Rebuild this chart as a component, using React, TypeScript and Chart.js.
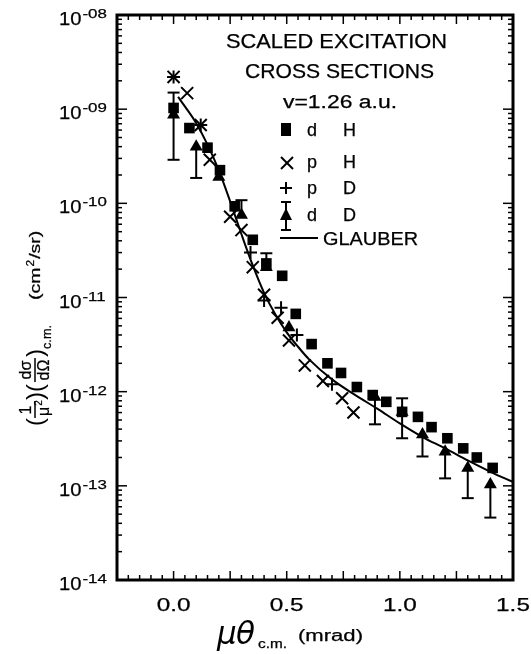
import React, { useEffect, useRef } from 'react';
import { Chart, registerables } from 'chart.js';

Chart.register(...registerables);

// ---------- data ----------
const xTickValues = [0, 0.5, 1.0, 1.5];
const xTickLabels = ['0.0', '0.5', '1.0', '1.5'];
const yTickExponents = [-14, -13, -12, -11, -10, -9, -8];
const yTickLabels = ['-14', '-13', '-12', '-11', '-10', '-09', '-08'];

// d H (filled squares)
const dH_x = [0.0, 0.07, 0.15, 0.205, 0.27, 0.35, 0.41, 0.48, 0.54, 0.61, 0.68, 0.74, 0.81, 0.88, 0.94, 1.01, 1.08, 1.14, 1.21, 1.28, 1.34, 1.41];
const dH_y = [1.03e-9, 6.3e-10, 3.9e-10, 2.25e-10, 9.3e-11, 4.1e-11, 2.3e-11, 1.7e-11, 6.7e-12, 3.2e-12, 2.0e-12, 1.58e-12, 1.12e-12, 9.2e-13, 7.8e-13, 6.1e-13, 5.4e-13, 4.2e-13, 3.2e-13, 2.5e-13, 2.0e-13, 1.55e-13];

// p H (x marks)
const pH_x = [0.0, 0.06, 0.12, 0.16, 0.25, 0.30, 0.35, 0.40, 0.46, 0.51, 0.58, 0.66, 0.745, 0.795];
const pH_y = [2.2e-9, 1.48e-9, 6.8e-10, 2.9e-10, 7.2e-11, 5.2e-11, 2.1e-11, 1.07e-11, 6.1e-12, 3.5e-12, 1.9e-12, 1.3e-12, 8.5e-13, 6.0e-13];

// p D (plus marks)
const pD_x = [0.0, 0.12, 0.34, 0.40, 0.475, 0.545, 0.70];
const pD_y = [2.2e-9, 6.8e-10, 3.0e-11, 9.3e-12, 7.8e-12, 4.0e-12, 1.2e-12];

// d D (filled triangles with error bars)
const dD_x = [0.0, 0.10, 0.20, 0.30, 0.41, 0.51, 0.89, 1.01, 1.10, 1.20, 1.30, 1.40];
const dD_y = [8.7e-10, 4.0e-10, 1.9e-10, 7.5e-11, 2.1e-11, 4.8e-12, 8.8e-13, 6.1e-13, 3.5e-13, 2.3e-13, 1.55e-13, 1.03e-13];
const dD_low = [2.9e-10, 1.86e-10, 1.9e-10, 7.5e-11, 2.1e-11, 4.8e-12, 4.5e-13, 3.2e-13, 2.05e-13, 1.2e-13, 7.4e-14, 4.6e-14];
const dD_high = [1.5e-9, 4.0e-10, 1.9e-10, 1.08e-10, 2.95e-11, 4.8e-12, 8.8e-13, 8.5e-13, 3.5e-13, 2.3e-13, 1.55e-13, 1.03e-13];

// Glauber calculation (solid line)
const gl_x = [0.02, 0.05, 0.1, 0.15, 0.2, 0.25, 0.3, 0.35, 0.4, 0.45, 0.5, 0.55, 0.6, 0.7, 0.8, 0.9, 1.0, 1.1, 1.2, 1.3, 1.4, 1.5];
const gl_y = [1.35e-9, 1.07e-9, 7.1e-10, 4.2e-10, 2.24e-10, 1.05e-10, 4.7e-11, 2.19e-11, 1.12e-11, 6.6e-12, 4.27e-12, 3.0e-12, 2.19e-12, 1.35e-12, 9.3e-13, 6.6e-13, 4.6e-13, 3.3e-13, 2.5e-13, 1.86e-13, 1.41e-13, 1.1e-13];

const legendTitle = ['SCALED EXCITATION', 'CROSS SECTIONS', 'v=1.26 a.u.'];
const legendRows = [['d', 'H'], ['p', 'H'], ['p', 'D'], ['d', 'D']];
const legendLine = 'GLAUBER';

// ---------- helpers ----------
const FONT = '"Liberation Sans", Arial, Helvetica, sans-serif';
const pts = (xs: number[], ys: number[]) => xs.map((x, i) => ({ x, y: ys[i] }));

type TxtOpts = { align?: 'left' | 'center' | 'right'; width?: number; sx?: number; italic?: boolean; stroke?: number; family?: string };
function txt(ctx: CanvasRenderingContext2D, s: string, x: number, y: number, size: number, o: TxtOpts = {}) {
  const align = o.align || 'left';
  ctx.save();
  ctx.font = `${o.italic ? 'italic ' : ''}${size}px ${o.family || FONT}`;
  const w = ctx.measureText(s).width;
  const sx = o.width ? o.width / w : o.sx || 1;
  const tw = w * sx;
  const x0 = align === 'left' ? x : align === 'center' ? x - tw / 2 : x - tw;
  ctx.translate(x0, y);
  ctx.scale(sx, 1);
  ctx.fillStyle = '#000';
  ctx.textAlign = 'left';
  ctx.textBaseline = 'alphabetic';
  ctx.fillText(s, 0, 0);
  const st = o.stroke === undefined ? 0.25 : o.stroke;
  if (st) {
    ctx.strokeStyle = '#000';
    ctx.lineWidth = st;
    ctx.strokeText(s, 0, 0);
  }
  ctx.restore();
  return tw;
}
function line(ctx: CanvasRenderingContext2D, x1: number, y1: number, x2: number, y2: number, lw = 2) {
  ctx.beginPath();
  ctx.lineWidth = lw;
  ctx.moveTo(x1, y1);
  ctx.lineTo(x2, y2);
  ctx.stroke();
}

const framePlugin = {
  id: 'frame',
  beforeDraw(chart: any) {
    const { ctx, width, height } = chart;
    ctx.save();
    ctx.fillStyle = '#fff';
    ctx.fillRect(0, 0, width, height);
    ctx.restore();
  },
  afterDatasetsDraw(chart: any) {
    // error bars for d D
    const { ctx, scales } = chart;
    const xs = scales.x, ys = scales.y;
    ctx.save();
    ctx.strokeStyle = '#000';
    dD_x.forEach((xv, i) => {
      const px = xs.getPixelForValue(xv);
      const pc = ys.getPixelForValue(dD_y[i]);
      const pl = ys.getPixelForValue(dD_low[i]);
      const ph = ys.getPixelForValue(dD_high[i]);
      if (pl - pc > 1) {
        line(ctx, px, pc, px, pl, 2);
        line(ctx, px - 6, pl, px + 6, pl, 2);
      }
      if (pc - ph > 1) {
        line(ctx, px, pc, px, ph, 2);
        line(ctx, px - 6, ph, px + 6, ph, 2);
      }
    });
    ctx.restore();
  },
  afterDraw(chart: any) {
    const { ctx, chartArea: a, scales } = chart;
    const xs = scales.x, ys = scales.y;
    ctx.save();
    ctx.strokeStyle = '#000';
    ctx.fillStyle = '#000';
    // frame
    ctx.lineWidth = 3;
    ctx.strokeRect(a.left, a.top, a.right - a.left, a.bottom - a.top);
    // x ticks (inward, top & bottom)
    for (let i = -4; i < 30; i++) {
      const v = i * 0.05;
      const px = xs.getPixelForValue(v);
      const len = i % 5 === 0 ? 9 : 5;
      line(ctx, px, a.bottom, px, a.bottom - len, 1.5);
      line(ctx, px, a.top, px, a.top + len, 1.5);
    }
    // y ticks (log, inward, left & right)
    for (let e = -14; e <= -9; e++) {
      for (let k = 1; k <= 9; k++) {
        if (e === -14 && k === 1) continue;
        const py = ys.getPixelForValue(k * Math.pow(10, e));
        const len = k === 1 ? 10 : 5;
        line(ctx, a.left, py, a.left + len, py, 1.5);
        line(ctx, a.right, py, a.right - len, py, 1.5);
      }
    }
    // x tick labels
    xTickValues.forEach((v, i) => {
      const px = xs.getPixelForValue(v);
      txt(ctx, xTickLabels[i], px, a.bottom + 31, 18, { align: 'center', sx: 1.35 });
    });
    // y tick labels
    yTickExponents.forEach((e, i) => {
      const py = ys.getPixelForValue(Math.pow(10, e));
      const w = txt(ctx, '10', 59, py + 10, 18, { sx: 1.12 });
      txt(ctx, yTickLabels[i], 59 + w + 1, py + 3, 13, { sx: 1.3 });
    });
    // x axis title
    txt(ctx, 'μ', 217, 644, 31, { italic: true, family: '"DejaVu Sans", sans-serif', stroke: 0 });
    txt(ctx, 'θ', 236, 644, 31, { italic: true, family: '"DejaVu Sans", sans-serif', stroke: 0 });
    txt(ctx, 'c.m.', 258, 648, 12, { width: 29 });
    txt(ctx, '(mrad)', 298, 641, 16, { width: 65 });

    // y axis title (rotated)
    ctx.save();
    ctx.translate(35, 426);
    ctx.rotate(-Math.PI / 2);
    txt(ctx, '(', 0, 8, 24, { stroke: 0 });
    txt(ctx, '1', 16, -4, 16, { align: 'center' });
    line(ctx, 8, 0, 25, 0, 1.5);
    const wm = txt(ctx, 'μ', 10, 14, 16, { stroke: 0.2 });
    txt(ctx, '2', 10 + wm + 1, 7, 10, { stroke: 0.2 });
    txt(ctx, ')(', 26, 8, 24, { stroke: 0 });
    txt(ctx, 'dσ', 56, -4, 16, { align: 'center' });
    line(ctx, 44, 0, 68, 0, 1.5);
    txt(ctx, 'dΩ', 56, 14, 16, { align: 'center' });
    txt(ctx, ')', 69, 8, 24, { stroke: 0 });
    txt(ctx, 'c.m.', 77, 16, 13, { width: 24 });
    let u = 126;
    u += txt(ctx, '(cm', u, 5, 15, { sx: 1.3 });
    u += txt(ctx, '2', u + 1, -1, 10, { sx: 1.2 }) + 2;
    txt(ctx, '/sr)', u, 5, 15, { sx: 1.3 });
    ctx.restore();

    // legend
    txt(ctx, legendTitle[0], 226, 48, 20, { width: 221 });
    txt(ctx, legendTitle[1], 245, 78, 20, { width: 189 });
    txt(ctx, legendTitle[2], 283, 108, 18, { width: 114 });
    const rowBase = [136, 168, 194, 221];
    legendRows.forEach((r, i) => {
      txt(ctx, r[0], 307, rowBase[i], 18);
      txt(ctx, r[1], 343, rowBase[i], 18);
    });
    // symbols
    ctx.fillRect(281, 123, 10, 13);
    line(ctx, 281, 157, 293, 169, 2);
    line(ctx, 293, 157, 281, 169, 2);
    line(ctx, 280, 188, 292, 188, 2);
    line(ctx, 286, 182, 286, 194, 2);
    line(ctx, 286, 202, 286, 230, 2);
    line(ctx, 281, 202, 291, 202, 2);
    line(ctx, 281, 230, 291, 230, 2);
    ctx.beginPath();
    ctx.moveTo(286, 208);
    ctx.lineTo(292, 220);
    ctx.lineTo(280, 220);
    ctx.closePath();
    ctx.fill();
    line(ctx, 280, 238, 318, 238, 2);
    txt(ctx, legendLine, 323, 245, 18, { width: 95 });
    ctx.restore();
  },
};

export default function App() {
  const ref = useRef<HTMLCanvasElement>(null);
  useEffect(() => {
    const chart = new Chart(ref.current as HTMLCanvasElement, {
      type: 'scatter',
      data: {
        datasets: [
          {
            label: 'd H',
            data: pts(dH_x, dH_y),
            pointStyle: 'rect',
            pointRadius: 7.5,
            backgroundColor: '#000',
            borderColor: '#000',
            borderWidth: 0,
          },
          {
            label: 'p H',
            data: pts(pH_x, pH_y),
            pointStyle: 'crossRot',
            pointRadius: 8.5,
            borderColor: '#000',
            borderWidth: 2,
          },
          {
            label: 'p D',
            data: pts(pD_x, pD_y),
            pointStyle: 'cross',
            pointRadius: 6.5,
            borderColor: '#000',
            borderWidth: 2,
          },
          {
            label: 'd D',
            data: pts(dD_x, dD_y),
            pointStyle: 'triangle',
            pointRadius: 7.5,
            backgroundColor: '#000',
            borderColor: '#000',
            borderWidth: 0,
          },
          {
            label: 'GLAUBER',
            type: 'line',
            data: pts(gl_x, gl_y),
            showLine: true,
            borderColor: '#000',
            borderWidth: 2,
            pointRadius: 0,
            cubicInterpolationMode: 'monotone',
            fill: false,
          } as any,
        ],
      },
      options: {
        animation: false,
        responsive: false,
        layout: { padding: { top: 15, right: 18, left: 0, bottom: 0 } },
        plugins: { legend: { display: false }, tooltip: { enabled: false } },
        events: [],
        scales: {
          x: {
            type: 'linear',
            min: -0.25,
            max: 1.5,
            grid: { display: false },
            border: { display: false },
            ticks: { display: false },
            afterFit: (s: any) => { s.height = 74; },
          },
          y: {
            type: 'logarithmic',
            min: 1e-14,
            max: 1e-8,
            grid: { display: false },
            border: { display: false },
            ticks: { display: false },
            afterFit: (s: any) => { s.width = 117; },
          },
        },
      },
      plugins: [framePlugin],
    } as any);
    return () => chart.destroy();
  }, []);
  return (
    <canvas
      ref={ref}
      width={531}
      height={654}
      style={{ position: 'absolute', left: 0, top: 0, width: 531, height: 654, display: 'block' }}
    />
  );
}
